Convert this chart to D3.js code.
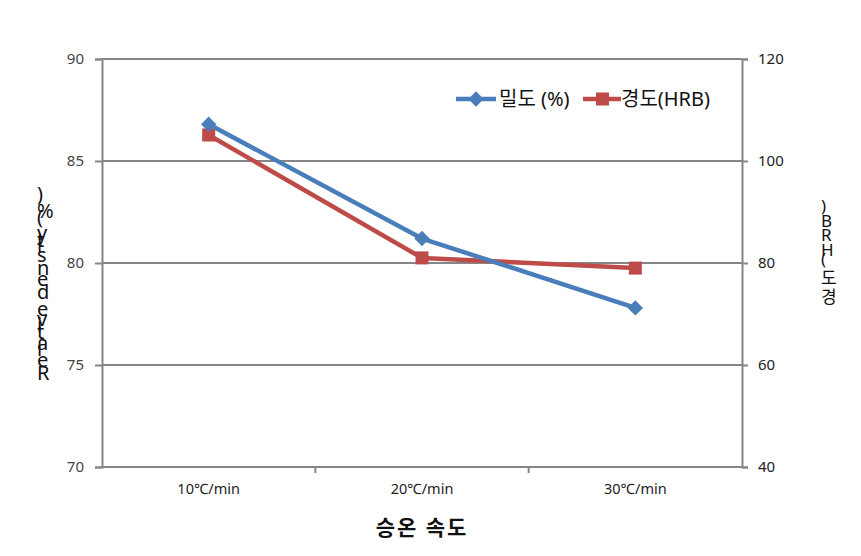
<!DOCTYPE html>
<html><head><meta charset="utf-8">
<script src="https://cdn.jsdelivr.net/npm/d3@7"></script>
<style>
html,body{margin:0;padding:0;background:#fff;}
text{font-family:"Noto Sans","Noto Sans CJK KR",sans-serif;}
</style></head>
<body><svg id="c" width="861" height="556"></svg>
<script>
const categories = ["10℃/min", "20℃/min", "30℃/min"];
const densityValues = [86.8, 81.2, 77.8];
const hardnessValues = [105.1, 81.0, 79.0];
const leftTicks = [70, 75, 80, 85, 90];
const rightTicks = [40, 60, 80, 100, 120];
const seriesNames = ["밀도 (%)", "경도(HRB)"];
const xTitle = "승온 속도";
const leftTitle = "Relative density (%)";
const rightTitle = "경도(HRB)";

const svg = d3.select("#c");
const L = 102, R = 742, T = 59, B = 467;
const gridColor = "#868686";
const blue = "#4a7ebb", red = "#be4b48";

const x = d3.scaleBand().domain(categories).range([L, R]).padding(0);
const yL = d3.scaleLinear().domain([70, 90]).range([B, T]);
const yR = d3.scaleLinear().domain([40, 120]).range([B, T]);

// gridlines
svg.append("g").selectAll("line").data(leftTicks).join("line")
  .attr("x1", L).attr("x2", R)
  .attr("y1", d => yL(d)).attr("y2", d => yL(d))
  .attr("stroke", gridColor).attr("stroke-width", 2);

// left axis
const gl = svg.append("g").attr("transform", `translate(${L},0)`)
  .call(d3.axisLeft(yL).tickValues(leftTicks).tickSize(7).tickPadding(11));
gl.select(".domain").attr("stroke", gridColor).attr("stroke-width", 2);
gl.selectAll(".tick line").attr("stroke", gridColor).attr("stroke-width", 2);
gl.selectAll(".tick text").attr("font-size", 15).attr("fill", "#444");

// right axis
const gr = svg.append("g").attr("transform", `translate(${R},0)`)
  .call(d3.axisRight(yR).tickValues(rightTicks).tickSize(6).tickPadding(10));
gr.select(".domain").attr("stroke", gridColor).attr("stroke-width", 2);
gr.selectAll(".tick line").attr("stroke", gridColor).attr("stroke-width", 2);
gr.selectAll(".tick text").attr("font-size", 15).attr("fill", "#222");

// bottom axis
const gb = svg.append("g").attr("transform", `translate(0,${B})`)
  .call(d3.axisBottom(x).tickSize(0).tickPadding(17));
gb.select(".domain").remove();
gb.selectAll(".tick text").attr("font-size", 14.5).attr("fill", "#222");
// boundary tick marks between categories
svg.append("g").selectAll("line").data(categories.slice(1)).join("line")
  .attr("x1", d => x(d)).attr("x2", d => x(d))
  .attr("y1", B).attr("y2", B + 6)
  .attr("stroke", gridColor).attr("stroke-width", 2);
svg.append("line").attr("x1", L - 1).attr("x2", R + 1).attr("y1", B).attr("y2", B)
  .attr("stroke", gridColor).attr("stroke-width", 2);

const cx = d => x(d) + x.bandwidth() / 2;

// hardness series
const lineR = d3.line().x((d, i) => cx(categories[i])).y(d => yR(d));
svg.append("path").datum(hardnessValues).attr("d", lineR)
  .attr("fill", "none").attr("stroke", red).attr("stroke-width", 4.5).attr("stroke-linejoin", "round");
svg.append("g").selectAll("rect").data(hardnessValues).join("rect")
  .attr("x", (d, i) => cx(categories[i]) - 6.5).attr("y", d => yR(d) - 6.5)
  .attr("width", 13).attr("height", 13).attr("fill", red);

// density series
const lineL = d3.line().x((d, i) => cx(categories[i])).y(d => yL(d));
svg.append("path").datum(densityValues).attr("d", lineL)
  .attr("fill", "none").attr("stroke", blue).attr("stroke-width", 4.5).attr("stroke-linejoin", "round");
const diamond = d3.symbol().type(d3.symbolDiamond2).size(150);
svg.append("g").selectAll("path").data(densityValues).join("path")
  .attr("d", diamond)
  .attr("transform", (d, i) => `translate(${cx(categories[i])},${yL(d)})`)
  .attr("fill", blue);

// legend
const lg = svg.append("g");
lg.append("line").attr("x1", 456).attr("x2", 496).attr("y1", 99).attr("y2", 99)
  .attr("stroke", blue).attr("stroke-width", 4.5);
lg.append("path").attr("d", diamond).attr("transform", "translate(476,99)").attr("fill", blue);
lg.append("text").attr("x", 499).attr("y", 106).attr("font-size", 20).attr("fill", "#111").text(seriesNames[0]);
lg.append("line").attr("x1", 583).attr("x2", 621).attr("y1", 99).attr("y2", 99)
  .attr("stroke", red).attr("stroke-width", 4.5);
lg.append("rect").attr("x", 596).attr("y", 92.5).attr("width", 13).attr("height", 13).attr("fill", red);
lg.append("text").attr("x", 621).attr("y", 106).attr("font-size", 20).attr("fill", "#111").text(seriesNames[1]);

// x title
svg.append("text").attr("x", 422).attr("y", 535).attr("text-anchor", "middle")
  .attr("font-size", 21).attr("letter-spacing", 2).attr("font-weight", "bold").attr("fill", "#111").text(xTitle);

// y titles: upright glyphs stacked bottom to top
svg.append("text").attr("transform", "translate(37,380) rotate(-90)")
  .attr("rotate", 90).attr("textLength", 185).attr("lengthAdjust", "spacing")
  .attr("font-size", 20).attr("fill", "#111").text(leftTitle);
svg.append("text").attr("transform", "translate(821,303) rotate(-90)")
  .attr("rotate", 90).attr("textLength", 96).attr("lengthAdjust", "spacing")
  .attr("font-size", 17).attr("fill", "#111").text(rightTitle);
</script></body></html>
